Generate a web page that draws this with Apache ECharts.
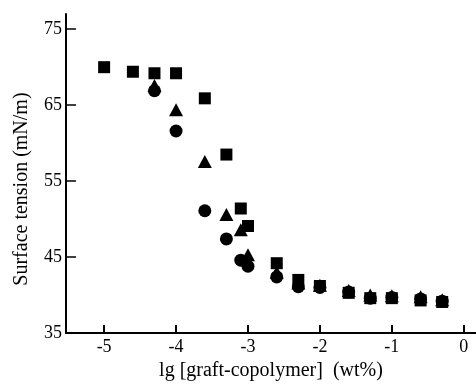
<!DOCTYPE html>
<html>
<head>
<meta charset="utf-8">
<script src="https://cdn.jsdelivr.net/npm/echarts@6/dist/echarts.min.js"></script>
<style>html,body{margin:0;padding:0;background:#fff}#c{width:476px;height:386px}</style>
</head>
<body>
<div id="c"></div>
<script>
var xTicks = [-5, -4, -3, -2, -1, 0];
var yTicks = [35, 45, 55, 65, 75];

var squareX = [-5, -4.6, -4.3, -4, -3.6, -3.3, -3.1, -3, -2.6, -2.3, -2, -1.6, -1.3, -1, -0.6, -0.3];
var squareY = [70.0, 69.4, 69.2, 69.2, 65.9, 58.5, 51.4, 49.1, 44.2, 42.0, 41.2, 40.3, 39.6, 39.6, 39.3, 39.1];

var triX = [-4.3, -4, -3.6, -3.3, -3.1, -3, -2.6, -2.3, -2, -1.6, -1.3, -1, -0.6, -0.3];
var triY = [67.6, 64.4, 57.6, 50.6, 48.6, 45.3, 43.0, 41.6, 41.3, 40.6, 40.0, 39.9, 39.8, 39.4];

var circX = [-4.3, -4, -3.6, -3.3, -3.1, -3, -2.6, -2.3, -2, -1.6, -1.3, -1, -0.6, -0.3];
var circY = [66.9, 61.6, 51.1, 47.4, 44.6, 43.8, 42.4, 41.1, 41.0, 40.4, 39.6, 39.7, 39.5, 39.2];

function pairs(xs, ys) { return xs.map(function (x, i) { return [x, ys[i]]; }); }

var font = 'Liberation Serif';
var chart = echarts.init(document.getElementById('c'));
chart.setOption({
  animation: false,
  backgroundColor: '#fff',
  grid: { left: 66, right: 0, top: 14, bottom: 51 },
  xAxis: {
    type: 'value', min: -5.53, max: 0.17,
    name: 'lg [graft-copolymer]  (wt%)', nameLocation: 'middle', nameGap: 27,
    nameTextStyle: { fontFamily: font, fontSize: 20, color: '#000' },
    axisLine: { onZero: false, lineStyle: { color: '#000', width: 2 } },
    axisTick: { inside: true, length: 8, lineStyle: { color: '#000', width: 2 }, customValues: xTicks },
    axisLabel: { customValues: xTicks, fontFamily: font, fontSize: 18, color: '#000', margin: 5 },
    splitLine: { show: false }
  },
  yAxis: {
    type: 'value', min: 35, max: 77,
    name: 'Surface tension (mN/m)', nameLocation: 'middle', nameGap: 34,
    nameTextStyle: { fontFamily: font, fontSize: 20, color: '#000', padding: [0, 31, 0, 0] },
    axisLine: { onZero: false, lineStyle: { color: '#000', width: 2 } },
    axisTick: { inside: true, length: 10, lineStyle: { color: '#000', width: 1.5 }, customValues: yTicks },
    axisLabel: { customValues: yTicks, fontFamily: font, fontSize: 18, color: '#000', margin: 4 },
    splitLine: { show: false }
  },
  series: [
    { type: 'scatter', symbol: 'rect', symbolSize: 12, itemStyle: { color: '#000', opacity: 1 }, data: pairs(squareX, squareY) },
    { type: 'scatter', symbol: 'triangle', symbolSize: [14, 13], itemStyle: { color: '#000', opacity: 1 }, data: pairs(triX, triY) },
    { type: 'scatter', symbol: 'circle', symbolSize: 13, itemStyle: { color: '#000', opacity: 1 }, data: pairs(circX, circY) }
  ]
});
</script>
</body>
</html>
